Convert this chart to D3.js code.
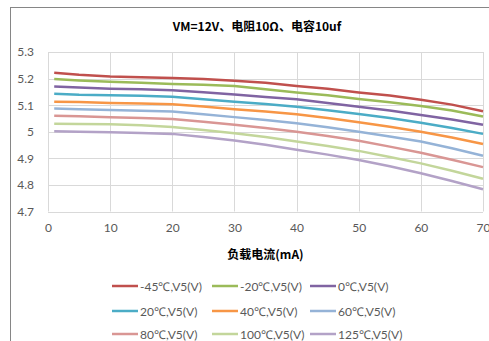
<!DOCTYPE html>
<html><head><meta charset="utf-8">
<script src="https://cdn.jsdelivr.net/npm/d3@7"></script>
<style>body{margin:0;background:#fff;}svg{display:block;}</style>
</head><body><svg id="c" width="489" height="341"></svg>
<script>
const title = "VM=12V、电阻10Ω、电容10uf";
const xTitle = "负载电流(mA)";
const xValues = [1,5,10,15,20,25,30,35,40,45,50,55,60,65,70];
const xTicks = [0,10,20,30,40,50,60,70];
const yTicks = [4.7,4.8,4.9,5,5.1,5.2,5.3];
const seriesNames = ["-45℃,V5(V)","-20℃,V5(V)","0℃,V5(V)","20℃,V5(V)","40℃,V5(V)","60℃,V5(V)","80℃,V5(V)","100℃,V5(V)","125℃,V5(V)"];
const colors = ["#C0504D","#9BBB59","#8064A2","#4BACC6","#F79646","#95B3D7","#D99694","#C3D69B","#B3A2C7"];
const sM45 = [5.222,5.214,5.208,5.205,5.202,5.198,5.192,5.184,5.172,5.162,5.148,5.136,5.120,5.102,5.077];
const sM20 = [5.198,5.193,5.188,5.184,5.180,5.177,5.172,5.160,5.148,5.137,5.123,5.111,5.097,5.080,5.057];
const s0   = [5.170,5.166,5.162,5.160,5.156,5.149,5.140,5.131,5.122,5.108,5.094,5.080,5.063,5.046,5.026];
const s20  = [5.143,5.139,5.137,5.135,5.132,5.122,5.113,5.104,5.094,5.081,5.067,5.052,5.034,5.014,4.992];
const s40  = [5.113,5.112,5.108,5.106,5.103,5.095,5.085,5.076,5.066,5.052,5.036,5.019,5.000,4.978,4.954];
const s60  = [5.087,5.085,5.082,5.079,5.076,5.066,5.055,5.044,5.032,5.017,5.000,4.982,4.963,4.938,4.910];
const s80  = [5.060,5.058,5.055,5.052,5.048,5.038,5.026,5.014,5.000,4.984,4.966,4.944,4.921,4.895,4.867];
const s100 = [5.030,5.029,5.028,5.024,5.018,5.007,4.994,4.980,4.963,4.946,4.928,4.905,4.881,4.853,4.823];
const s125 = [5.002,5.000,4.998,4.995,4.992,4.980,4.967,4.951,4.932,4.914,4.894,4.870,4.844,4.815,4.784];
const series = [sM45,sM20,s0,s20,s40,s60,s80,s100,s125];

const svg = d3.select("#c");
const font = "Lato, 'Open Sans', sans-serif";
// outer chart border
svg.append("rect").attr("x",10.5).attr("y",7.5).attr("width",500).attr("height",400)
  .attr("fill","#fff").attr("stroke","#868686");

const m = {l:48, r:483, t:52, b:211.5};
const x = d3.scaleLinear().domain([0,70]).range([m.l,m.r]);
const y = d3.scaleLinear().domain([4.7,5.3]).range([m.b,m.t]);

// gridlines
svg.append("g").selectAll("line").data(yTicks).join("line")
  .attr("x1",m.l).attr("x2",m.r).attr("y1",d=>Math.round(y(d))+0.5).attr("y2",d=>Math.round(y(d))+0.5)
  .attr("stroke","#d9d9d9");
svg.append("g").selectAll("line").data(xTicks).join("line")
  .attr("y1",m.t).attr("y2",m.b).attr("x1",d=>Math.round(x(d))+0.5).attr("x2",d=>Math.round(x(d))+0.5)
  .attr("stroke","#d9d9d9");

// axes labels
const yAxis = d3.axisLeft(y).tickValues(yTicks).tickSize(0).tickPadding(14).tickFormat(d=>String(d));
const gy = svg.append("g").attr("transform",`translate(${m.l},0)`).call(yAxis);
gy.select(".domain").remove();
gy.selectAll("text").attr("fill","#595959").style("font-family",font).style("font-size","12px");
const xAxis = d3.axisBottom(x).tickValues(xTicks).tickSize(0).tickPadding(12).tickFormat(d=>String(d));
const gx = svg.append("g").attr("transform",`translate(0,${m.b})`).call(xAxis);
gx.select(".domain").remove();
gx.selectAll("text").attr("fill","#595959").style("font-family",font).style("font-size","12px");

// lines
const line = d3.line().x((d,i)=>x(xValues[i])).y(d=>y(d)).curve(d3.curveLinear);
svg.append("g").selectAll("path").data(series).join("path")
  .attr("d",line).attr("fill","none").attr("stroke",(d,i)=>colors[i]).attr("stroke-width",2.5)
  .attr("stroke-linejoin","round");

// titles
svg.append("text").attr("x",257).attr("y",31).attr("text-anchor","middle")
  .style("font-family","'Noto Sans CJK SC', sans-serif").style("font-weight","bold").style("font-size","12px")
  .attr("fill","#000").text(title);
svg.append("text").attr("x",265.5).attr("y",259).attr("text-anchor","middle")
  .style("font-family","'Noto Sans CJK SC', sans-serif").style("font-weight","bold").style("font-size","12px")
  .attr("fill","#000").text(xTitle);

// legend
const colX = [112,212,310], rowY = [286,311,334];
const lg = svg.append("g").selectAll("g").data(seriesNames).join("g")
  .attr("transform",(d,i)=>`translate(${colX[i%3]},${rowY[Math.floor(i/3)]})`);
lg.append("line").attr("x1",0).attr("x2",26).attr("y1",0).attr("y2",0)
  .attr("stroke",(d,i)=>colors[i]).attr("stroke-width",2.5);
lg.append("text").attr("x",28).attr("y",4.5).text(d=>d)
  .style("font-family",font).style("font-size","12px").attr("fill","#595959");
</script></body></html>
